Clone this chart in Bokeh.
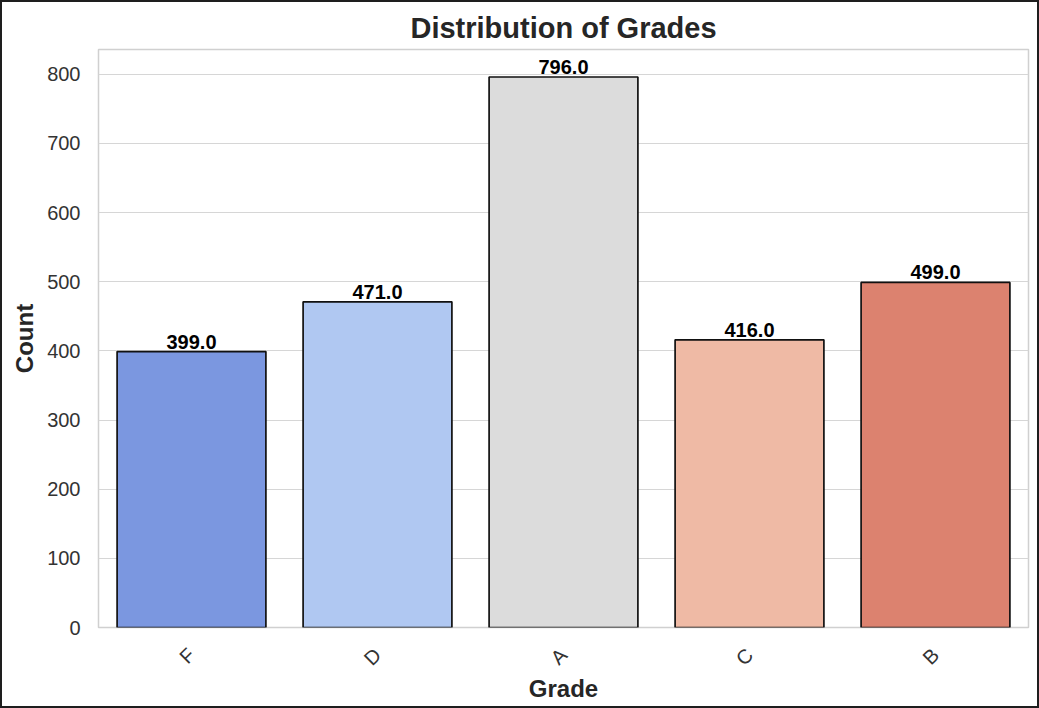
import math
from bokeh.plotting import figure
from bokeh.models import ColumnDataSource, Range1d, FactorRange, SingleIntervalTicker
from bokeh.core.properties import value
from bokeh.embed import file_html
from bokeh.resources import INLINE

# Grade counts, in plotting order
grades = ["F", "D", "A", "C", "B"]
counts = [399, 471, 796, 416, 499]
colors = ["#7b97e0", "#b0c8f2", "#dcdcdc", "#efbaa5", "#dc826f"]
labels = [f"{c:.1f}" for c in counts]

src = ColumnDataSource(dict(grade=grades, count=counts, color=colors, label=labels))

FONT = "Liberation Sans"

p = figure(
    width=1039, height=708,
    x_range=FactorRange(*grades, range_padding=0),
    y_range=Range1d(0, max(counts) * 1.05),
    output_backend="svg", toolbar_location=None,
    title="Distribution of Grades",
)
p.min_border_left = 96
p.min_border_right = 13
p.min_border_top = 47
p.min_border_bottom = 83

p.vbar(x="grade", top="count", width=0.8, source=src,
       fill_color="color", line_color="#111111", line_width=1.7)

p.text(x="grade", y="count", text="label", source=src,
       text_align="center", text_baseline="bottom", y_offset=-3,
       text_font=value(FONT), text_font_style="bold", text_font_size="20px",
       text_color="#000000")

# Title
p.title.align = "center"
p.title.text_font = FONT
p.title.text_font_size = "29px"
p.title.text_font_style = "bold"
p.title.text_color = "#262626"
p.title.offset = 0
p.title.standoff = 11

# Frame and grid
p.outline_line_color = "#d0d0d0"
p.outline_line_width = 1.5
p.xgrid.grid_line_color = None
p.ygrid.grid_line_color = "#d6d6d6"
p.ygrid.grid_line_width = 1.2
p.background_fill_color = "white"
p.border_fill_color = "white"

# Axes
p.yaxis.ticker = SingleIntervalTicker(interval=100)
for ax in (p.xaxis, p.yaxis):
    ax.axis_line_color = None
    ax.major_tick_line_color = None
    ax.minor_tick_line_color = None
    ax.major_label_text_font = FONT
    ax.major_label_text_font_size = "20px"
    ax.major_label_text_color = "#333333"
    ax.axis_label_text_font = FONT
    ax.axis_label_text_font_size = "24px"
    ax.axis_label_text_font_style = "bold"
    ax.axis_label_text_color = "#262626"

p.yaxis.axis_label = "Count"
p.yaxis.major_label_standoff = 12
p.yaxis.axis_label_standoff = 6
p.xaxis.axis_label = "Grade"
p.xaxis.major_label_orientation = math.pi / 4
p.xaxis.major_label_standoff = 18
p.xaxis.axis_label_standoff = -5

p.styles = {"border": "2px solid #1e1e1e"}

open("out.html", "w").write(file_html(p, INLINE))
